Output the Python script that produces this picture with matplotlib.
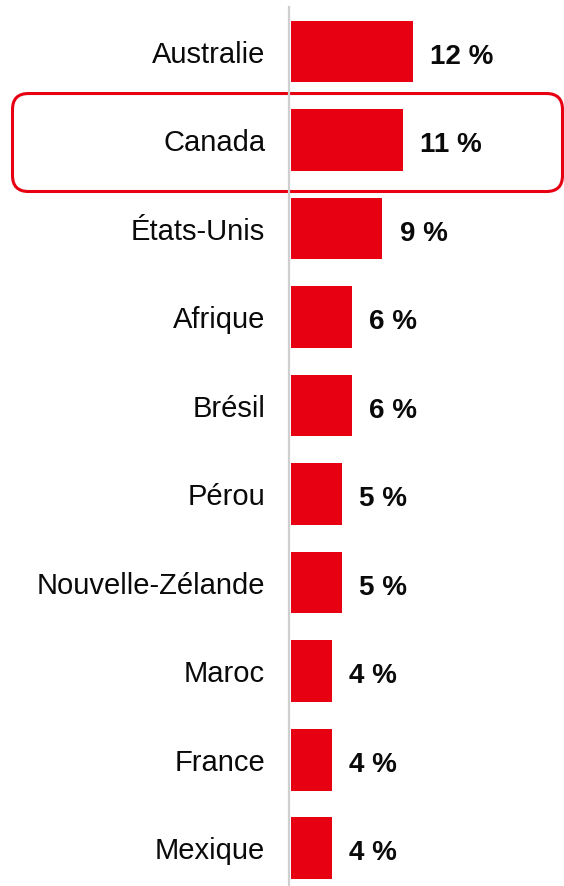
import matplotlib
matplotlib.use("Agg")
import matplotlib.pyplot as plt
from matplotlib.patches import FancyBboxPatch
from matplotlib.transforms import IdentityTransform

categories = ["Australie", "Canada", "États-Unis", "Afrique", "Brésil", "Pérou",
              "Nouvelle-Zélande", "Maroc", "France", "Mexique"]
values = [12, 11, 9, 6, 6, 5, 5, 4, 4, 4]
highlight = "Canada"

RED = "#E60012"
W, H, DPI = 564, 887, 100

plt.rcParams['font.family'] = ['Liberation Sans', 'DejaVu Sans']
fig = plt.figure(figsize=(W / DPI, H / DPI), dpi=DPI)
ax = fig.add_axes([291 / W, 0, 1 - 291 / W, 1])
ax.patch.set_visible(False)

ypos = list(range(len(categories)))
ax.barh(ypos, values, height=0.70, color=RED, zorder=3)
ax.set_xlim(0, 26.9)
ax.set_ylim(9.429, -0.593)

ax.axvline(-0.15, ymin=0, ymax=(H - 8) / H, color="#cfcfcf", lw=1.6,
           zorder=2, clip_on=False)

for s in ax.spines.values():
    s.set_visible(False)
ax.set_xticks([])
ax.set_yticks([])

for y, (c, v) in enumerate(zip(categories, values)):
    ax.annotate(c, (0, y), xytext=(-18.6, -7.4), textcoords="offset points",
                ha="right", va="baseline", fontsize=21, color="#0a0a0a")
    ax.annotate(f"{v} %", (v, y), xytext=(12.5, -8.0), textcoords="offset points",
                ha="left", va="baseline", fontsize=20, fontweight="bold", color="#0a0a0a")

# highlight box around Canada row (drawn beneath the axes so the gray line crosses it)
fig.canvas.draw()
hi = categories.index(highlight)
_, ytop = ax.transData.transform((0, hi - 0.525))
_, ybot = ax.transData.transform((0, hi + 0.582))
x0, x1 = 12.5, 562.5
box = FancyBboxPatch((x0, ybot), x1 - x0, ytop - ybot,
                     boxstyle="round,pad=0,rounding_size=16",
                     transform=IdentityTransform(), fill=False,
                     edgecolor=RED, lw=2.2, zorder=-1)
fig.patches.append(box)
box.set_figure(fig)

fig.savefig("out.png", dpi=DPI)
